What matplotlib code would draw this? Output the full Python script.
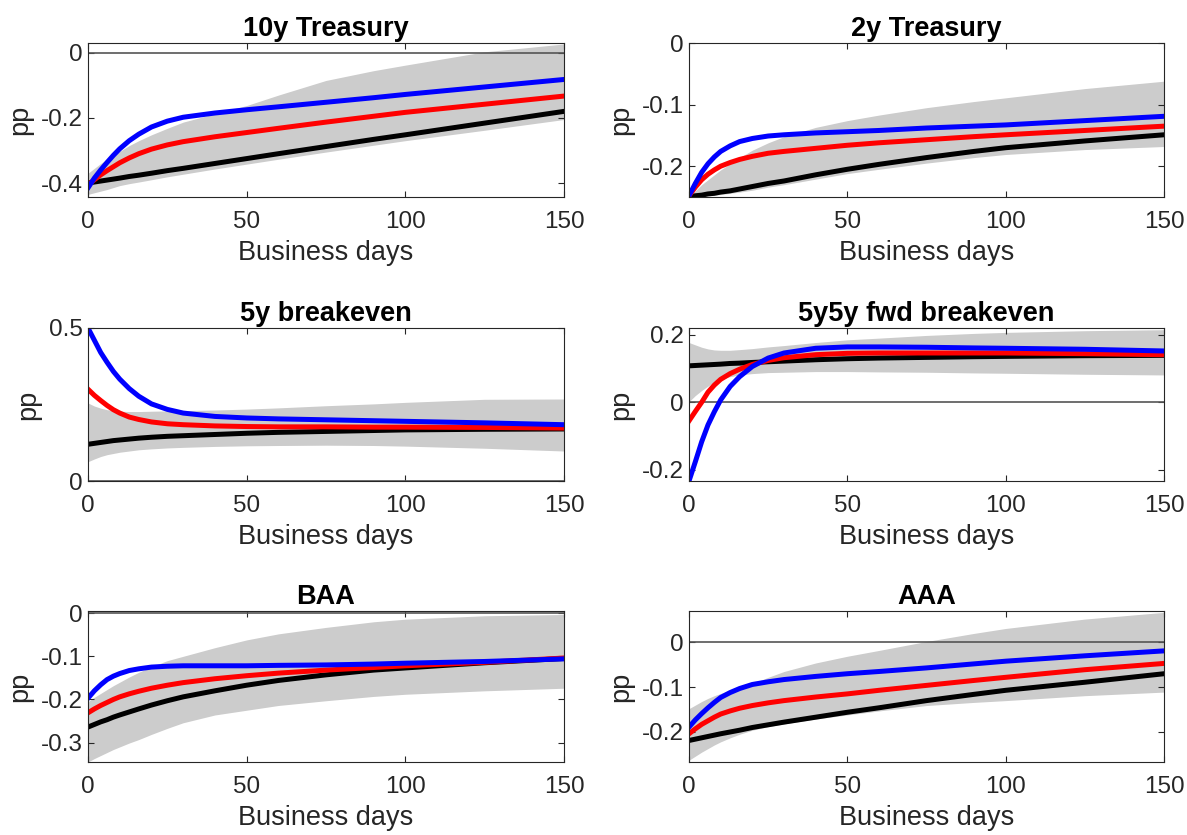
import numpy as np
import matplotlib
matplotlib.use("Agg")
import matplotlib.pyplot as plt
from matplotlib.ticker import FuncFormatter

plt.rcParams['font.family'] = ['Liberation Sans', 'DejaVu Sans']
plt.rcParams['axes.unicode_minus'] = False

days = [0, 2, 4, 6, 8, 10, 13, 16, 20, 25, 30, 40, 50, 60, 75, 90, 100, 125, 150]

titles = ['10y Treasury', '2y Treasury', '5y breakeven',
          '5y5y fwd breakeven', 'BAA', 'AAA']

# 10y Treasury
t10_blue = [-0.415, -0.385, -0.36, -0.337, -0.315, -0.295, -0.27, -0.25, -0.228, -0.21, -0.198, -0.185, -0.175, -0.166, -0.152, -0.138, -0.128, -0.105, -0.082]
t10_red = [-0.405, -0.39, -0.375, -0.362, -0.35, -0.338, -0.323, -0.31, -0.296, -0.283, -0.273, -0.258, -0.245, -0.232, -0.213, -0.195, -0.183, -0.158, -0.133]
t10_black = [-0.40, -0.397, -0.394, -0.391, -0.388, -0.385, -0.38, -0.376, -0.37, -0.362, -0.355, -0.34, -0.325, -0.31, -0.288, -0.266, -0.252, -0.216, -0.18]
t10_hi = [-0.37, -0.355, -0.34, -0.327, -0.315, -0.303, -0.285, -0.27, -0.252, -0.232, -0.213, -0.187, -0.162, -0.13, -0.085, -0.055, -0.038, 0.003, 0.027]
t10_lo = [-0.435, -0.43, -0.425, -0.42, -0.414, -0.408, -0.402, -0.397, -0.39, -0.381, -0.373, -0.357, -0.342, -0.327, -0.305, -0.284, -0.27, -0.238, -0.205]

# 2y Treasury
t2_blue = [-0.248, -0.228, -0.21, -0.196, -0.185, -0.176, -0.167, -0.16, -0.155, -0.151, -0.149, -0.146, -0.144, -0.142, -0.138, -0.135, -0.133, -0.126, -0.119]
t2_red = [-0.248, -0.234, -0.222, -0.213, -0.206, -0.2, -0.194, -0.189, -0.184, -0.179, -0.176, -0.171, -0.166, -0.162, -0.157, -0.152, -0.149, -0.142, -0.135]
t2_black = [-0.25, -0.248, -0.247, -0.245, -0.244, -0.242, -0.24, -0.237, -0.233, -0.228, -0.224, -0.214, -0.205, -0.197, -0.186, -0.176, -0.17, -0.159, -0.149]
t2_hi = [-0.25, -0.24, -0.23, -0.222, -0.214, -0.206, -0.196, -0.186, -0.174, -0.162, -0.152, -0.137, -0.126, -0.117, -0.105, -0.095, -0.089, -0.074, -0.062]
t2_lo = [-0.25, -0.25, -0.249, -0.248, -0.247, -0.246, -0.244, -0.242, -0.239, -0.234, -0.23, -0.221, -0.212, -0.205, -0.195, -0.186, -0.181, -0.173, -0.168]

# 5y breakeven
be5_blue = [0.5, 0.46, 0.42, 0.388, 0.358, 0.333, 0.302, 0.277, 0.252, 0.234, 0.222, 0.211, 0.206, 0.203, 0.2, 0.197, 0.195, 0.19, 0.184]
be5_red = [0.3, 0.28, 0.263, 0.247, 0.233, 0.222, 0.209, 0.201, 0.193, 0.187, 0.184, 0.18, 0.178, 0.177, 0.177, 0.176, 0.176, 0.175, 0.173]
be5_black = [0.12, 0.123, 0.126, 0.129, 0.132, 0.134, 0.137, 0.14, 0.143, 0.146, 0.148, 0.152, 0.156, 0.159, 0.162, 0.165, 0.167, 0.169, 0.17]
be5_hi = [0.255, 0.245, 0.238, 0.233, 0.23, 0.228, 0.227, 0.227, 0.228, 0.229, 0.23, 0.232, 0.235, 0.239, 0.246, 0.252, 0.257, 0.267, 0.268]
be5_lo = [0.063, 0.072, 0.08, 0.086, 0.09, 0.094, 0.098, 0.102, 0.105, 0.108, 0.11, 0.113, 0.115, 0.116, 0.117, 0.116, 0.114, 0.107, 0.098]

# 5y5y fwd breakeven
fwd_blue = [-0.233, -0.176, -0.117, -0.067, -0.028, 0.007, 0.047, 0.076, 0.106, 0.131, 0.146, 0.16, 0.164, 0.164, 0.163, 0.161, 0.16, 0.157, 0.152]
fwd_red = [-0.055, -0.027, 0.0, 0.03, 0.051, 0.068, 0.085, 0.098, 0.112, 0.124, 0.132, 0.141, 0.145, 0.146, 0.146, 0.146, 0.146, 0.144, 0.141]
fwd_black = [0.108, 0.109, 0.11, 0.111, 0.112, 0.113, 0.115, 0.116, 0.118, 0.12, 0.122, 0.126, 0.129, 0.131, 0.133, 0.135, 0.136, 0.138, 0.139]
fwd_hi = [0.177, 0.17, 0.163, 0.158, 0.155, 0.154, 0.154, 0.156, 0.159, 0.164, 0.168, 0.177, 0.185, 0.19, 0.198, 0.204, 0.207, 0.212, 0.215]
fwd_lo = [0.002, 0.02, 0.035, 0.048, 0.06, 0.068, 0.076, 0.081, 0.085, 0.088, 0.089, 0.091, 0.091, 0.09, 0.089, 0.087, 0.086, 0.083, 0.081]

# BAA
baa_blue = [-0.197, -0.18, -0.166, -0.154, -0.146, -0.14, -0.133, -0.129, -0.125, -0.123, -0.122, -0.122, -0.122, -0.121, -0.12, -0.118, -0.116, -0.112, -0.106]
baa_red = [-0.231, -0.222, -0.214, -0.207, -0.2, -0.194, -0.187, -0.181, -0.174, -0.167, -0.161, -0.152, -0.145, -0.139, -0.132, -0.126, -0.122, -0.114, -0.104]
baa_black = [-0.264, -0.258, -0.252, -0.247, -0.241, -0.236, -0.229, -0.222, -0.213, -0.203, -0.194, -0.18, -0.167, -0.156, -0.143, -0.132, -0.127, -0.115, -0.105]
baa_hi = [-0.205, -0.195, -0.186, -0.177, -0.168, -0.16, -0.148, -0.137, -0.124, -0.11, -0.1, -0.08, -0.062, -0.048, -0.033, -0.02, -0.014, -0.006, -0.003]
baa_lo = [-0.345, -0.337, -0.33, -0.323, -0.316, -0.31, -0.301, -0.293, -0.281, -0.267, -0.254, -0.236, -0.225, -0.214, -0.203, -0.193, -0.188, -0.18, -0.174]

# AAA
aaa_blue = [-0.189, -0.173, -0.159, -0.146, -0.134, -0.123, -0.112, -0.103, -0.094, -0.088, -0.083, -0.076, -0.07, -0.065, -0.057, -0.048, -0.042, -0.03, -0.019]
aaa_red = [-0.204, -0.193, -0.183, -0.175, -0.167, -0.16, -0.153, -0.147, -0.141, -0.135, -0.13, -0.122, -0.115, -0.107, -0.096, -0.085, -0.078, -0.061, -0.047]
aaa_black = [-0.219, -0.216, -0.213, -0.21, -0.207, -0.204, -0.2, -0.196, -0.19, -0.184, -0.178, -0.167, -0.156, -0.146, -0.13, -0.116, -0.107, -0.089, -0.07]
aaa_hi = [-0.148, -0.14, -0.132, -0.125, -0.119, -0.114, -0.107, -0.1, -0.092, -0.078, -0.065, -0.046, -0.031, -0.018, 0.002, 0.02, 0.031, 0.052, 0.067]
aaa_lo = [-0.263, -0.254, -0.245, -0.237, -0.229, -0.222, -0.213, -0.205, -0.196, -0.188, -0.182, -0.171, -0.162, -0.153, -0.141, -0.134, -0.13, -0.119, -0.111]

blues = [t10_blue, t2_blue, be5_blue, fwd_blue, baa_blue, aaa_blue]
reds = [t10_red, t2_red, be5_red, fwd_red, baa_red, aaa_red]
blacks = [t10_black, t2_black, be5_black, fwd_black, baa_black, aaa_black]
his = [t10_hi, t2_hi, be5_hi, fwd_hi, baa_hi, aaa_hi]
los = [t10_lo, t2_lo, be5_lo, fwd_lo, baa_lo, aaa_lo]

ylims = [(-0.443, 0.03), (-0.25, 0.0), (0.0, 0.5), (-0.233, 0.22), (-0.345, 0.005), (-0.267, 0.07)]
yticks = [[-0.4, -0.2, 0], [-0.2, -0.1, 0], [0, 0.5], [-0.2, 0, 0.2], [-0.3, -0.2, -0.1, 0], [-0.2, -0.1, 0]]

W, H = 1187, 835
fig = plt.figure(figsize=(W / 100, H / 100), dpi=100)

# axes boxes in pixels: (left, right), (top, bottom)
cols = [(88, 564), (689, 1164)]
rows = [(43, 197), (328, 481), (611, 762)]

txt = '#262626'
for i in range(6):
    l, r = cols[i % 2]
    t, b = rows[i // 2]
    ax = fig.add_axes([l / W, 1 - b / H, (r - l) / W, (b - t) / H])
    ax.fill_between(days, los[i], his[i], color='#cccccc', lw=0)
    ax.axhline(0, color='#555555', lw=1.2)
    ax.plot(days, blacks[i], color='black', lw=3.6)
    ax.plot(days, reds[i], color='red', lw=3.6)
    ax.plot(days, blues[i], color='blue', lw=3.6)
    ax.set_xlim(0, 150)
    ax.set_ylim(*ylims[i])
    ax.set_xticks([0, 50, 100, 150])
    ax.set_yticks(yticks[i])
    ax.yaxis.set_major_formatter(FuncFormatter(lambda v, p: '%g' % v))
    ax.tick_params(direction='in', top=True, right=True, length=4.5,
                   width=0.8, color=txt, labelsize=17.5, labelcolor=txt)
    ax.tick_params(axis='x', pad=10)
    ax.tick_params(axis='y', pad=4)
    for s in ax.spines.values():
        s.set_color(txt)
        s.set_linewidth(0.8)
    ax.set_title(titles[i], fontsize=19.5, fontweight='bold', pad=5)
    ax.set_xlabel('Business days', fontsize=19.5, color=txt, labelpad=5)
    ax.set_ylabel('pp', fontsize=19.5, color=txt, labelpad=5)

fig.savefig('out.png', dpi=100)
